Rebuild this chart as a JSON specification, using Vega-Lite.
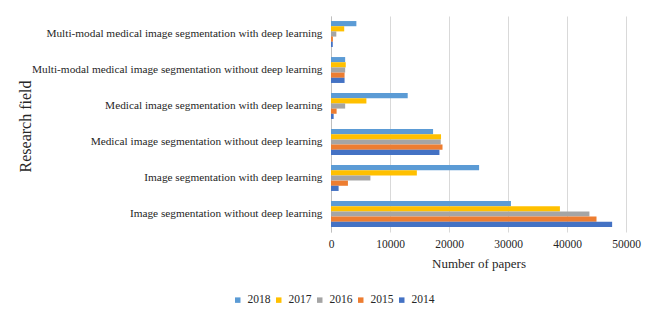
{
  "$schema": "https://vega.github.io/schema/vega-lite/v6.json",
  "width": 295,
  "height": 216,
  "autosize": "none",
  "padding": {"left": 331, "top": 16, "right": 28, "bottom": 94},
  "background": "white",
  "config": {
    "view": {"stroke": null},
    "font": "Liberation Serif",
    "axis": {"labelFont": "Liberation Serif", "titleFont": "Liberation Serif"},
    "legend": {"labelFont": "Liberation Serif"}
  },
  "data": {
    "values": [
      {"field": "Multi-modal medical image segmentation with deep learning", "year": "2018", "papers": 4300},
      {"field": "Multi-modal medical image segmentation with deep learning", "year": "2017", "papers": 2240},
      {"field": "Multi-modal medical image segmentation with deep learning", "year": "2016", "papers": 900},
      {"field": "Multi-modal medical image segmentation with deep learning", "year": "2015", "papers": 330},
      {"field": "Multi-modal medical image segmentation with deep learning", "year": "2014", "papers": 300},
      {"field": "Multi-modal medical image segmentation without deep learning", "year": "2018", "papers": 2400},
      {"field": "Multi-modal medical image segmentation without deep learning", "year": "2017", "papers": 2500},
      {"field": "Multi-modal medical image segmentation without deep learning", "year": "2016", "papers": 2400},
      {"field": "Multi-modal medical image segmentation without deep learning", "year": "2015", "papers": 2300},
      {"field": "Multi-modal medical image segmentation without deep learning", "year": "2014", "papers": 2300},
      {"field": "Medical image segmentation with deep learning", "year": "2018", "papers": 13000},
      {"field": "Medical image segmentation with deep learning", "year": "2017", "papers": 6000},
      {"field": "Medical image segmentation with deep learning", "year": "2016", "papers": 2400},
      {"field": "Medical image segmentation with deep learning", "year": "2015", "papers": 950},
      {"field": "Medical image segmentation with deep learning", "year": "2014", "papers": 450},
      {"field": "Medical image segmentation without deep learning", "year": "2018", "papers": 17300},
      {"field": "Medical image segmentation without deep learning", "year": "2017", "papers": 18650},
      {"field": "Medical image segmentation without deep learning", "year": "2016", "papers": 18600},
      {"field": "Medical image segmentation without deep learning", "year": "2015", "papers": 18900},
      {"field": "Medical image segmentation without deep learning", "year": "2014", "papers": 18380},
      {"field": "Image segmentation with deep learning", "year": "2018", "papers": 25100},
      {"field": "Image segmentation with deep learning", "year": "2017", "papers": 14550},
      {"field": "Image segmentation with deep learning", "year": "2016", "papers": 6680},
      {"field": "Image segmentation with deep learning", "year": "2015", "papers": 2870},
      {"field": "Image segmentation with deep learning", "year": "2014", "papers": 1290},
      {"field": "Image segmentation without deep learning", "year": "2018", "papers": 30500},
      {"field": "Image segmentation without deep learning", "year": "2017", "papers": 38800},
      {"field": "Image segmentation without deep learning", "year": "2016", "papers": 43800},
      {"field": "Image segmentation without deep learning", "year": "2015", "papers": 45000},
      {"field": "Image segmentation without deep learning", "year": "2014", "papers": 47650}
    ]
  },
  "mark": {"type": "bar"},
  "encoding": {
    "y": {
      "field": "field",
      "type": "nominal",
      "sort": null,
      "scale": {"paddingInner": 0.28, "paddingOuter": 0.14},
      "axis": {
        "title": "Research field",
        "titleFontSize": 16,
        "titleFontWeight": "normal",
        "titleColor": "#262626",
        "titleX": -306,
        "titleY": 110,
        "titleAngle": -90,
        "titleAlign": "center",
        "titleBaseline": "middle",
        "labelFontSize": 11.3,
        "labelColor": "#262626",
        "labelLimit": 400,
        "labelPadding": 9,
        "ticks": false,
        "domainColor": "#bfbfbf",
        "grid": false
      }
    },
    "yOffset": {
      "field": "year",
      "type": "nominal",
      "scale": {"domain": ["2018", "2017", "2016", "2015", "2014"], "paddingInner": 0, "paddingOuter": 0}
    },
    "x": {
      "field": "papers",
      "type": "quantitative",
      "scale": {"domain": [0, 50000], "nice": false},
      "axis": {
        "title": "Number of papers",
        "titleFontSize": 13,
        "titleFontWeight": "normal",
        "titleColor": "#262626",
        "titlePadding": 8,
        "values": [0, 10000, 20000, 30000, 40000, 50000],
        "format": "d",
        "labelFontSize": 11.5,
        "labelColor": "#262626",
        "labelPadding": 6,
        "ticks": false,
        "domain": false,
        "gridColor": "#d9d9d9",
        "labelFlush": false
      }
    },
    "color": {
      "field": "year",
      "type": "nominal",
      "scale": {
        "domain": ["2018", "2017", "2016", "2015", "2014"],
        "range": ["#5B9BD5", "#FFC000", "#A5A5A5", "#ED7D31", "#4472C4"]
      },
      "legend": {
        "title": null,
        "orient": "none",
        "direction": "horizontal",
        "legendX": -99,
        "legendY": 278,
        "symbolType": "square",
        "symbolSize": 30,
        "symbolStrokeWidth": 0,
        "labelFontSize": 11.5,
        "labelColor": "#262626",
        "labelOffset": 4,
        "columnPadding": 2
      }
    }
  }
}
